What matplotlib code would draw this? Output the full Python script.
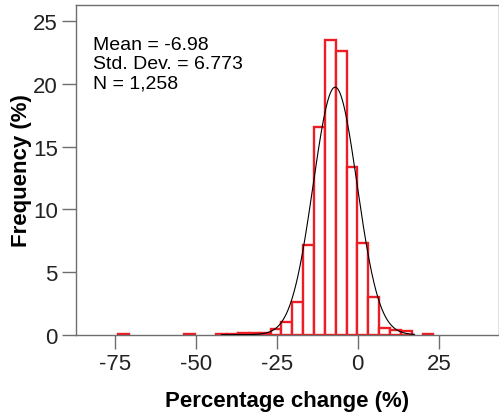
import numpy as np
import matplotlib
matplotlib.use('Agg')
import matplotlib.pyplot as plt

# histogram of percentage change, heights (% of N)
bin_start = -73.8
bin_width = 3.35
freq_pct = [0.08, 0, 0, 0, 0, 0, 0.08, 0, 0, 0.08, 0.08, 0.16, 0.16, 0.16,
            0.48, 0.99, 2.62, 7.15, 16.53, 23.53, 22.58, 13.35, 7.31, 3.02,
            0.56, 0.40, 0.32, 0, 0.08]

mean_val = -6.98
sd_val = 6.773
n_val = 1258

x_ticks = [-75, -50, -25, 0, 25]
y_ticks = [0, 5, 10, 15, 20, 25]

plt.rcParams['font.family'] = ['Liberation Sans', 'DejaVu Sans']
plt.rcParams['axes.unicode_minus'] = False

fig = plt.figure(figsize=(4.99, 4.14), dpi=100)
ax = fig.add_axes([0.1517, 0.1891, 0.8473, 0.797])

edges = bin_start + bin_width * np.arange(len(freq_pct))
heights = np.array(freq_pct)
keep = heights > 0
ax.bar(edges[keep], heights[keep], width=bin_width, align='edge',
       facecolor='white', edgecolor='#ee1c25', linewidth=1.7, zorder=2)

# fitted normal curve, scaled to percent per bin
xs = np.linspace(-42, 17.5, 500)
ys = 100 * bin_width * np.exp(-0.5 * ((xs - mean_val) / sd_val) ** 2) / (sd_val * np.sqrt(2 * np.pi))
ax.plot(xs, ys, color='black', linewidth=0.8, zorder=3)

ax.set_xlim(-87.0, 43.4)
ax.set_ylim(0, 26.3)
ax.set_xticks(x_ticks)
ax.set_yticks(y_ticks)
ax.tick_params(direction='out', length=10, width=1, color='#6e6e6e',
               labelsize=16, labelcolor='#222222', pad=3)
for s in ax.spines.values():
    s.set_color('#6e6e6e')
    s.set_linewidth(1.0)

ax.set_xlabel('Percentage change (%)', fontsize=16, fontweight='bold', labelpad=11.5)
ax.set_ylabel('Frequency (%)', fontsize=16, fontweight='bold', labelpad=0.5)

ax.text(0.04, 0.905, 'Mean = %.2f\nStd. Dev. = %.3f\nN = %s' % (mean_val, sd_val, format(n_val, ',')),
        transform=ax.transAxes, fontsize=14, va='top', ha='left', linespacing=1.15,
        color='black')

fig.savefig('out.png', dpi=100)
